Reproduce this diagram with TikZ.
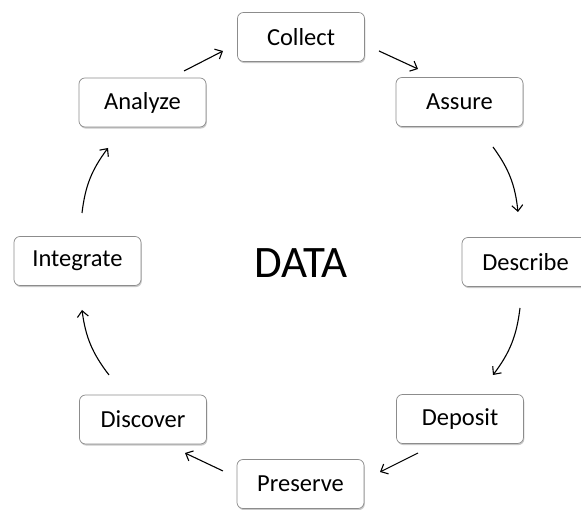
\documentclass[tikz,border=0pt]{standalone}
\usepackage{fontspec}
\setmainfont{Carlito}
\usetikzlibrary{shadows,arrows.meta}
\tikzset{
  stage/.style={draw=black!45, line width=0.7pt, fill=white, rounded corners=6pt,
    minimum width=127pt, minimum height=49pt, inner sep=0pt,
    font=\fontsize{24.5}{28}\selectfont, text=black,
    drop shadow={shadow xshift=0.8pt, shadow yshift=-1.6pt, fill=black!35, opacity=0.6}},
  arr/.style={draw=black, line width=1.1pt, -{Straight Barb[length=6pt,width=11pt,line width=1.1pt]}}
}
\begin{document}
\begin{tikzpicture}[x=1pt,y=1pt]
\useasboundingbox (0,0) rectangle (581,510);
\clip (0,0) rectangle (581,510);
\fill[white] (0,0) rectangle (581,510);
\node[stage] (collect) at (301,473) {Collect};
\node[stage] (assure) at (459.5,408) {Assure};
\node[stage] (describe) at (525.5,248) {Describe};
\node[stage] (deposit) at (460,91) {Deposit};
\node[stage] (preserve) at (300.5,26) {Preserve};
\node[stage] (discover) at (143,90.5) {Discover};
\node[stage] (integrate) at (77.5,249) {Integrate};
\node[stage] (analyze) at (142.5,407.5) {Analyze};
\node[font=\fontsize{45}{50}\selectfont, text=black] (data) at (301,247) {DATA};

\draw[arr] ([shift={(41.5,31.5)}]analyze.center) -- ([shift={(-78,-14)}]collect.center);
\draw[arr] ([shift={(78,-14)}]collect.center) -- ([shift={(-41.5,33)}]assure.center);
\draw[arr] ([shift={(33.5,-45)}]assure.center) to[bend left=15] ([shift={(-7.5,50)}]describe.center);
\draw[arr] ([shift={(-5.5,-46)}]describe.center) to[bend left=15] ([shift={(33,44)}]deposit.center);
\draw[arr] ([shift={(-42,-34)}]deposit.center) -- ([shift={(79.5,12)}]preserve.center);
\draw[arr] ([shift={(-77.5,13)}]preserve.center) -- ([shift={(42,-33.5)}]discover.center);
\draw[arr] ([shift={(-34,44.5)}]discover.center) to[bend left=15] ([shift={(4.5,-49)}]integrate.center);
\draw[arr] ([shift={(4.5,48)}]integrate.center) to[bend left=15] ([shift={(-34.5,-45.5)}]analyze.center);
\end{tikzpicture}
\end{document}
